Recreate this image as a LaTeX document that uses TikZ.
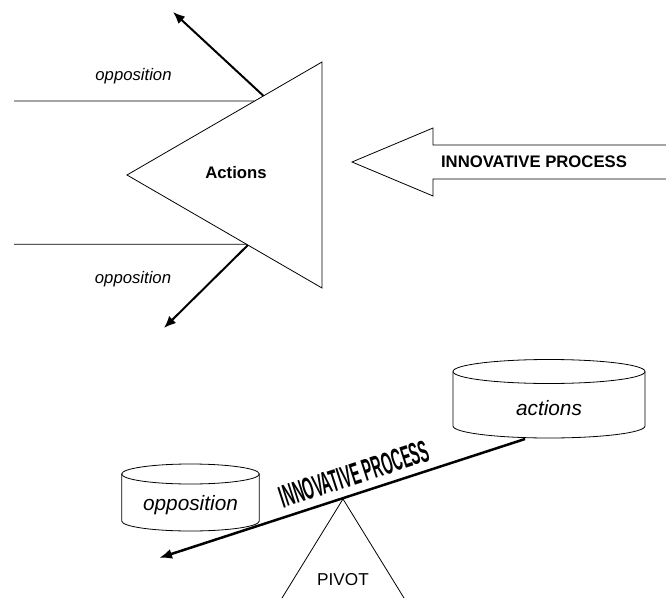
\documentclass[tikz,border=0pt]{standalone}
\usepackage{fontspec}
\setmainfont{Liberation Sans}
\usetikzlibrary{arrows.meta}
\usetikzlibrary{calc}
\newcommand{\mainsize}{\fontsize{16.7}{20}\selectfont}
\newcommand{\drumsize}{\fontsize{20.8}{24}\selectfont}
\newcommand{\drum}[6] {\begin{scope}[shift={(#1)}] \draw [thinline] (0,#3) ellipse [x radius=#2, y radius=#4]; \draw [thinline] (-#2,#3) -- (-#2,-#3) arc [start angle=180, end angle=360, x radius=#2, y radius=#4] -- (#2,#3); \end{scope} \node at ($(#1)+(0,-0.8*#4)$) (#5) [drumtext] {#6};}
\newcommand{\sidelabel}[2] {\node at (#1) (#2) [sidetext] {opposition};}
\tikzset{
  thinline/.style={line width=0.8pt},
  thickarrow/.style={line width=2pt, -{Latex[length=12pt,width=10pt]}},
  beamarrow/.style={line width=2.5pt, -{Latex[length=13pt,width=10pt]}},
  sidetext/.style={font=\mainsize\itshape},
  boldtext/.style={font=\mainsize\bfseries},
  drumtext/.style={font=\drumsize\itshape}
}
\begin{document}
\begin{tikzpicture}[x=1pt, y=1pt]
\useasboundingbox (0,0) rectangle (666,598);

\coordinate (tip) at (127,423);
\coordinate (top) at (322,536);
\coordinate (bot) at (322,310);
\draw [thinline] (tip) -- (top) -- (bot) -- cycle;
\node at (236,425) (actions) [boldtext] {Actions};

\coordinate (upleft) at (14,497);
\coordinate (upright) at ($(tip)!0.655!(top)$);
\coordinate (lowleft) at (14,353.7);
\coordinate (lowright) at ($(tip)!0.613!(bot)$);
\draw [thinline] (upleft) -- (upright);
\draw [thinline] (lowleft) -- (lowright);
\sidelabel {133.5,522} {opptop};
\sidelabel {133,319} {oppbot};

\coordinate (upfoot) at ($(tip)!0.70!(top)$);
\coordinate (uphead) at (173,586);
\coordinate (lowfoot) at ($(tip)!0.62!(bot)$);
\coordinate (lowhead) at (164,270);
\draw [thickarrow] (upfoot) -- (uphead);
\draw [thickarrow] (lowfoot) -- (lowhead);

\node at (534,436) (process) [boldtext] {INNOVATIVE PROCESS};
\draw [thinline] (666,453) -- (433,453) -- (433,470) -- (352,436) -- (433,402) -- (433,419) -- (666,419);

\drum {549,199.25} {96} {27.25} {12} {acts} {actions};
\drum {190.5,100.5} {68.8} {23.5} {10} {opps} {opposition};

\coordinate (beamend) at (525,159);
\coordinate (beamhead) at (159,40);
\draw [beamarrow] (beamend) -- (beamhead);
\node at (354.5,124) (beamtext) [rotate=18, font=\fontsize{31}{33}\selectfont\bfseries] {\scalebox{0.45}[1]{INNOVATIVE PROCESS}};

\coordinate (pivtop) at (343,99);
\coordinate (pivleft) at (282,0);
\coordinate (pivright) at (404,0);
\draw [thinline] (pivleft) -- (pivtop) -- (pivright);
\node at (343,18) (pivot) [font=\fontsize{17.2}{20}\selectfont] {PIVOT};
\end{tikzpicture}
\end{document}
